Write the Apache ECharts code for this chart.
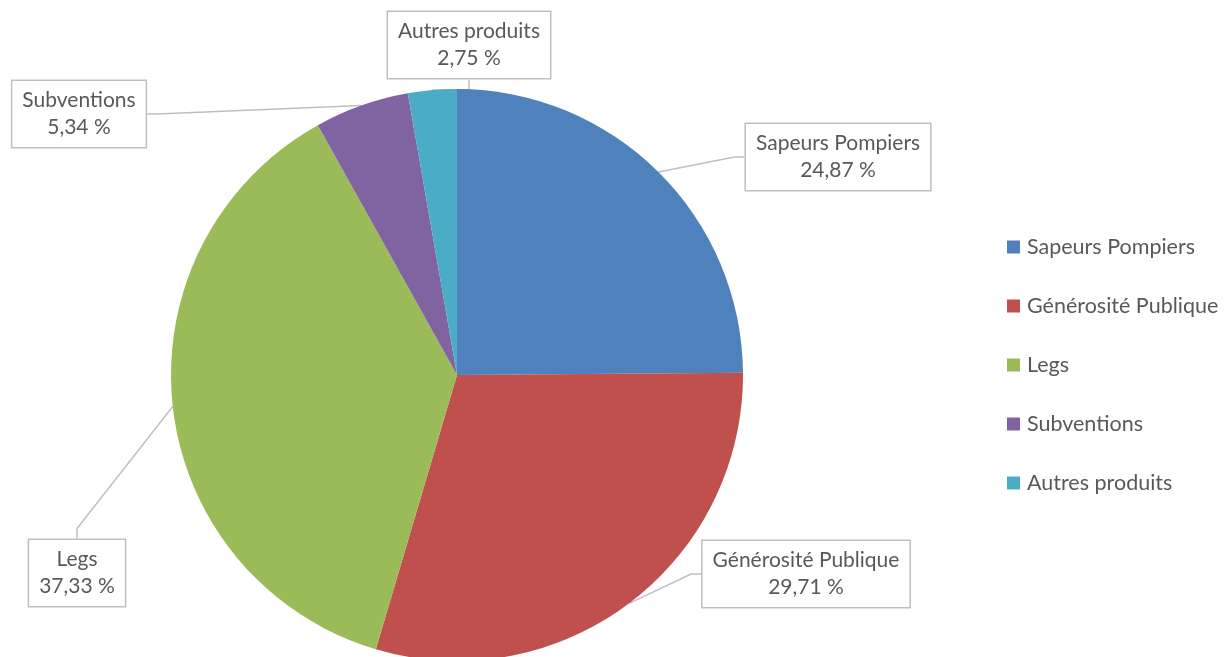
<!DOCTYPE html>
<html>
<head>
<meta charset="utf-8">
<script src="https://cdn.jsdelivr.net/npm/echarts@6/dist/echarts.min.js"></script>
<style>
  html, body { margin: 0; padding: 0; background: #fff; }
  #chart { width: 1228px; height: 657px; }
</style>
</head>
<body>
<div id="chart"></div>
<script>
// sources of revenue, shares in %
const categories = ['Sapeurs Pompiers', 'Générosité Publique', 'Legs', 'Subventions', 'Autres produits'];
const shares = [24.87, 29.71, 37.33, 5.34, 2.75];
const colors = ['#4F81BD', '#C0504D', '#9BBB59', '#8064A2', '#4BACC6'];

// where each callout box sits (centre of box)
const labelSpots = [[838, 157], [806, 574], [77, 573], [79, 114], [469, 45]];

const chart = echarts.init(document.getElementById('chart'));

const data = categories.map((name, i) => ({
  name: name,
  value: shares[i],
  itemStyle: { color: colors[i] }
}));

chart.setOption({
  animation: false,
  legend: {
    orient: 'vertical',
    left: 1002,
    top: 230,
    icon: 'rect',
    itemWidth: 13,
    itemHeight: 13,
    itemGap: 35,
    itemStyle: { borderWidth: 0 },
    textStyle: { fontFamily: 'Lato', fontSize: 21.5, lineHeight: 24, color: '#595959', padding: [0, 0, 0, 2] },
    data: categories
  },
  series: [{
    type: 'pie',
    center: [457, 375],
    radius: 286,
    startAngle: 90,
    clockwise: true,
    avoidLabelOverlap: false,
    data: data,
    label: {
      show: true,
      position: 'outside',
      formatter: p => p.name + '\n' + p.value.toFixed(2).replace('.', ',') + ' %',
      fontFamily: 'Lato',
      fontSize: 21,
      lineHeight: 27,
      color: '#595959',
      align: 'center',
      backgroundColor: '#fff',
      borderColor: '#bfbfbf',
      borderWidth: 1.5,
      padding: [6, 10, 6, 10]
    },
    labelLine: {
      show: true,
      length: 10,
      length2: 10,
      lineStyle: { color: '#bfbfbf', width: 1.5 }
    },
    labelLayout: function (params) {
      const spot = labelSpots[params.dataIndex];
      return { x: spot[0], y: spot[1], align: 'center', verticalAlign: 'middle' };
    },
    emphasis: { disabled: true }
  }]
});

window.addEventListener('resize', function () {
  chart.resize();
});
</script>
</body>
</html>
